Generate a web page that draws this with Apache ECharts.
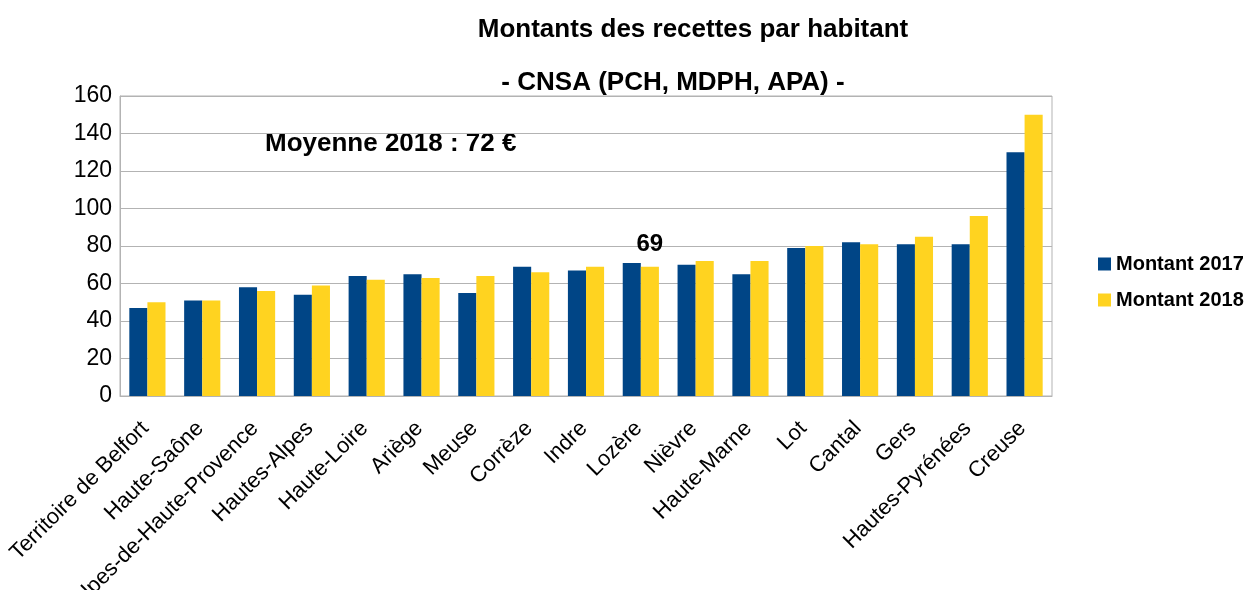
<!DOCTYPE html>
<html>
<head>
<meta charset="utf-8">
<script src="https://cdn.jsdelivr.net/npm/echarts@6/dist/echarts.min.js"></script>
<style>
  html, body { margin: 0; padding: 0; background: #fff; }
  #chart { width: 1260px; height: 590px; }
</style>
</head>
<body>
<div id="chart"></div>
<script>
  // départements, classés comme dans le graphique
  const departements = ['Territoire de Belfort', 'Haute-Saône', 'Alpes-de-Haute-Provence', 'Hautes-Alpes',
    'Haute-Loire', 'Ariège', 'Meuse', 'Corrèze', 'Indre', 'Lozère', 'Nièvre', 'Haute-Marne', 'Lot',
    'Cantal', 'Gers', 'Hautes-Pyrénées', 'Creuse'];
  const montant2017 = [47, 51, 58, 54, 64, 65, 55, 69, 67, 71, 70, 65, 79, 82, 81, 81, 130];
  const montant2018 = [50, 51, 56, 59, 62, 63, 64, 66, 69, 69, 72, 72, 80, 81, 85, 96, 150];
  const yTicks = [0, 20, 40, 60, 80, 100, 120, 140, 160];
  const departementMarque = 'Lozère';

  const font = '"Liberation Sans", Arial, sans-serif';
  const chart = echarts.init(document.getElementById('chart'));

  // série 2018 : étiquette sur la Lozère seulement
  const data2018 = montant2018.map((v, i) => departements[i] === departementMarque ? {
    value: v,
    label: {show: true, position: 'top', distance: 10, fontSize: 24, fontWeight: 'bold', color: '#000', fontFamily: font}
  } : v);

  chart.setOption({
    animation: false,
    title: [
      {
        text: 'Montants des recettes par habitant',
        left: 688, top: 12, textAlign: 'center',
        textStyle: {fontSize: 26, fontWeight: 'bold', color: '#000', fontFamily: font}
      },
      {
        text: '- CNSA (PCH, MDPH, APA) -',
        left: 668, top: 65, textAlign: 'center',
        textStyle: {fontSize: 26, fontWeight: 'bold', color: '#000', fontFamily: font}
      }
    ],
    graphic: [{
      type: 'text', left: 265, top: 131,
      style: {text: 'Moyenne 2018 : 72 €', fontSize: 26, fontWeight: 'bold', fill: '#000', fontFamily: font}
    }],
    legend: {
      orient: 'vertical', left: 1093, top: 249, itemGap: 16,
      itemWidth: 13, itemHeight: 13, icon: 'rect',
      textStyle: {fontSize: 20, fontWeight: 'bold', color: '#000', fontFamily: font},
      data: ['Montant 2017', 'Montant 2018']
    },
    grid: {
      left: 120, right: 208, top: 96, bottom: 194,
      outerBoundsMode: 'none', containLabel: false,
      show: true, borderColor: '#b3b3b3', borderWidth: 1
    },
    xAxis: {
      type: 'category', data: departements,
      axisLine: {lineStyle: {color: '#b3b3b3'}},
      axisTick: {show: false},
      axisLabel: {
        interval: 0, rotate: 45, fontSize: 22, color: '#000', margin: 27,
        padding: [0, 3, 0, 0], fontFamily: font
      }
    },
    yAxis: {
      type: 'value', min: yTicks[0], max: yTicks[yTicks.length - 1], interval: 20,
      axisLine: {show: true, lineStyle: {color: '#b3b3b3'}},
      axisTick: {show: false},
      axisLabel: {fontSize: 23, color: '#000', margin: 8, fontFamily: font},
      splitLine: {lineStyle: {color: '#b3b3b3'}}
    },
    series: [
      {
        name: 'Montant 2017', type: 'bar', data: montant2017,
        itemStyle: {color: '#004586'}, barGap: '0%', barCategoryGap: '34%'
      },
      {
        name: 'Montant 2018', type: 'bar', data: data2018,
        itemStyle: {color: '#ffd320'}, barGap: '0%', barCategoryGap: '34%'
      }
    ]
  });
</script>
</body>
</html>
